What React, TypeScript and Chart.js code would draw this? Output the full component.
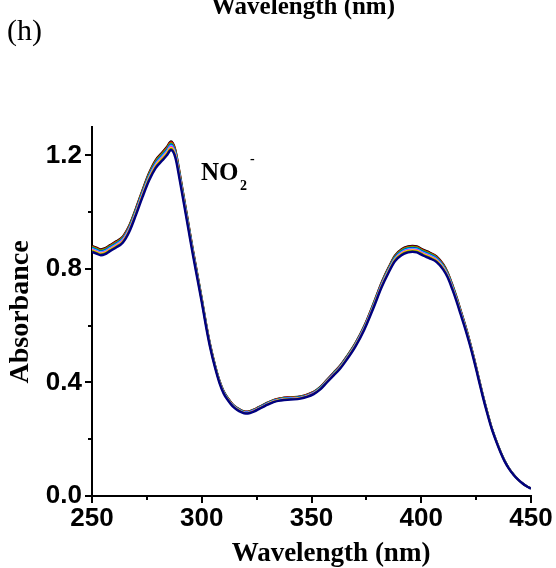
import React, { useEffect, useRef } from "react";
import { Chart, registerables } from "chart.js";

Chart.register(...registerables);

// Wavelength (nm)
const wavelengths = [
  250, 252, 254, 256, 258, 261, 264, 267, 270, 273, 276, 279, 282, 284, 286,
  288, 290, 292, 294, 296, 298, 300, 302, 304, 306, 308, 310, 312, 314, 316,
  318, 320, 322, 324, 326, 328, 330, 333, 336, 339, 342, 345, 348, 351, 354,
  357, 360, 363, 366, 370, 374, 378, 382, 385, 388, 391, 394, 396, 398, 401,
  404, 407, 410, 412, 414, 416, 418, 420, 422, 424, 426, 428, 430, 432, 434,
  436, 438, 440, 442, 444, 446, 448, 450,
];

// Absorbance of the uppermost (black) spectrum
const absorbanceTop = [
  0.882, 0.876, 0.87, 0.874, 0.884, 0.898, 0.915, 0.955, 1.015, 1.08, 1.14,
  1.185, 1.212, 1.23, 1.25, 1.222, 1.14, 1.05, 0.96, 0.87, 0.785, 0.7, 0.61,
  0.53, 0.465, 0.41, 0.37, 0.345, 0.325, 0.312, 0.303, 0.298, 0.3, 0.306,
  0.314, 0.322, 0.33, 0.34, 0.345, 0.348, 0.349, 0.352, 0.358, 0.368, 0.385,
  0.41, 0.435, 0.46, 0.492, 0.54, 0.6, 0.675, 0.755, 0.805, 0.848, 0.87, 0.88,
  0.882, 0.88, 0.868, 0.858, 0.845, 0.818, 0.79, 0.75, 0.705, 0.655, 0.605,
  0.55, 0.49, 0.425, 0.36, 0.3, 0.245, 0.2, 0.16, 0.125, 0.098, 0.077, 0.06,
  0.046, 0.035, 0.027,
];

// Spectra from top to bottom: colour and ratio of each spectrum to the top one
const seriesNames = ["s1", "s2", "s3", "s4", "s5", "s6", "s7", "s8", "s9"];
const seriesColors = [
  "#000000",
  "#ff0000",
  "#00ff00",
  "#0000ff",
  "#00ffff",
  "#ff00ff",
  "#ffff00",
  "#808000",
  "#000080",
];
const seriesScale = [1.0, 0.997, 0.994, 0.991, 0.988, 0.985, 0.982, 0.979, 0.975];

const xMajorTicks = [250, 300, 350, 400, 450];
const xMinorTicks = [275, 325, 375, 425];
const yMajorTicks = [0, 0.4, 0.8, 1.2];
const yMinorTicks = [0.2, 0.6, 1.0];

const TICK_FONT = "Liberation Sans";
const TITLE_FONT = "Liberation Serif";

export default function App() {
  const ref = useRef<HTMLCanvasElement>(null);

  useEffect(() => {
    if (!ref.current) return;
    const n = seriesColors.length;
    const datasets = seriesColors.map((c, i) => ({
      label: seriesNames[i],
      data: wavelengths.map((w, j) => ({ x: w, y: absorbanceTop[j] * seriesScale[i] })),
      borderColor: c,
      backgroundColor: c,
      borderWidth: i === n - 1 ? 2.4 : 1.8,
      pointRadius: 0,
      cubicInterpolationMode: "monotone" as const,
      order: n - 1 - i,
    }));

    const decor = {
      id: "decor",
      afterDraw(chart: any) {
        const ctx = chart.ctx;
        const xs = chart.scales.x;
        const ys = chart.scales.y;
        const { left, bottom } = chart.chartArea;
        ctx.save();
        ctx.strokeStyle = "#000";
        ctx.lineWidth = 2;
        ctx.lineCap = "butt";
        const tick = (x1: number, y1: number, x2: number, y2: number) => {
          ctx.beginPath();
          ctx.moveTo(x1, y1);
          ctx.lineTo(x2, y2);
          ctx.stroke();
        };
        xMajorTicks.forEach((v) => {
          const p = Math.round(xs.getPixelForValue(v));
          tick(p, bottom, p, bottom + 7);
        });
        xMinorTicks.forEach((v) => {
          const p = Math.round(xs.getPixelForValue(v));
          tick(p, bottom, p, bottom + 4);
        });
        yMajorTicks.forEach((v) => {
          const p = Math.round(ys.getPixelForValue(v));
          tick(left - 7, p, left, p);
        });
        yMinorTicks.forEach((v) => {
          const p = Math.round(ys.getPixelForValue(v));
          tick(left - 4, p, left, p);
        });

        ctx.fillStyle = "#000";
        ctx.textBaseline = "alphabetic";
        // panel label
        ctx.font = `30px "${TITLE_FONT}"`;
        ctx.textAlign = "left";
        ctx.fillText("(h)", 7, 40);
        // cropped title of the panel above
        ctx.font = `bold 25px "${TITLE_FONT}"`;
        ctx.textAlign = "center";
        ctx.fillText("Wavelength (nm)", 303, 14);
        // x-axis title
        ctx.font = `bold 27px "${TITLE_FONT}"`;
        ctx.fillText("Wavelength (nm)", 331, 561);
        // y-axis title
        ctx.save();
        ctx.translate(21, 312);
        ctx.rotate(-Math.PI / 2);
        ctx.textBaseline = "middle";
        ctx.font = `bold 28px "${TITLE_FONT}"`;
        ctx.fillText("Absorbance", 0, 0);
        ctx.restore();
        // NO2- annotation
        ctx.textAlign = "left";
        ctx.textBaseline = "alphabetic";
        ctx.font = `bold 25px "${TITLE_FONT}"`;
        ctx.fillText("NO", 201, 180);
        ctx.font = `bold 14px "${TITLE_FONT}"`;
        ctx.fillText("2", 240, 190);
        ctx.fillText("-", 250, 163);
        ctx.restore();
      },
    };

    const chart = new Chart(ref.current, {
      type: "line",
      data: { datasets },
      options: {
        animation: false,
        responsive: false,
        devicePixelRatio: 1,
        layout: { padding: { left: 0, right: 25, top: 127, bottom: 0 } },
        plugins: {
          legend: { display: false },
          tooltip: { enabled: false },
          title: { display: false },
        },
        scales: {
          x: {
            type: "linear",
            min: 250,
            max: 450,
            afterBuildTicks: (s: any) => {
              s.ticks = xMajorTicks.map((v) => ({ value: v }));
            },
            afterFit: (s: any) => {
              s.height = 72;
              s.paddingLeft = 0;
              s.paddingRight = 0;
            },
            ticks: {
              color: "#000",
              font: { family: TICK_FONT, weight: "bold", size: 26 },
              padding: 7,
              maxRotation: 0,
              autoSkip: false,
              callback: (v: any) => String(v),
            },
            grid: { display: false, drawTicks: false },
            border: { display: true, color: "#000", width: 2 },
          },
          y: {
            type: "linear",
            min: 0,
            max: 1.3,
            afterBuildTicks: (s: any) => {
              s.ticks = yMajorTicks.map((v) => ({ value: v }));
            },
            afterFit: (s: any) => {
              s.width = 92;
              s.paddingTop = 0;
              s.paddingBottom = 0;
            },
            ticks: {
              color: "#000",
              font: { family: TICK_FONT, weight: "bold", size: 26 },
              padding: 10,
              autoSkip: false,
              callback: (v: any) => Number(v).toFixed(1),
            },
            grid: { display: false, drawTicks: false },
            border: { display: true, color: "#000", width: 2 },
          },
        },
      },
      plugins: [decor],
    });
    return () => chart.destroy();
  }, []);

  return (
    <canvas
      ref={ref}
      width={556}
      height={568}
      style={{ position: "absolute", left: 0, top: 0, width: 556, height: 568, display: "block" }}
    />
  );
}
